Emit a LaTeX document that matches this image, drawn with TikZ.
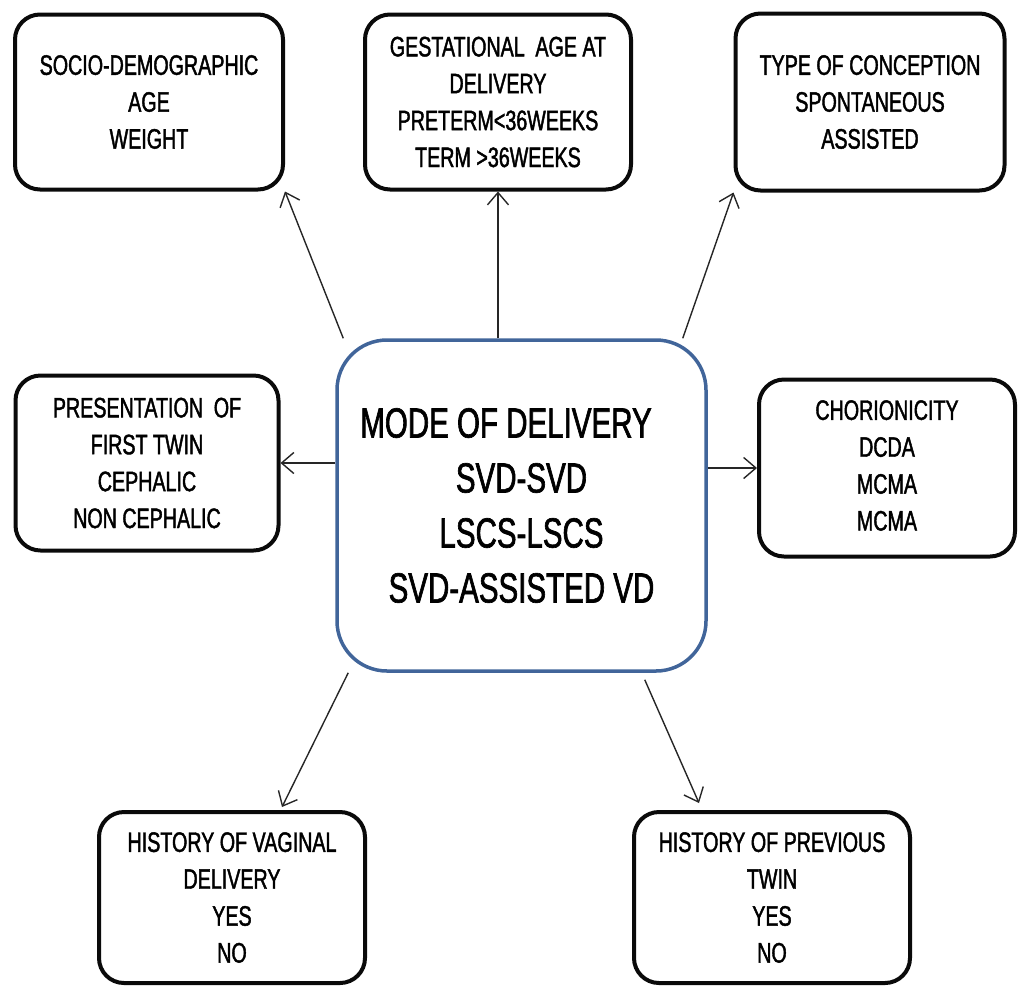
\documentclass[tikz,border=0pt]{standalone}
\usepackage{fontspec}
\setmainfont{Liberation Sans}[FakeStretch=0.7,FakeBold=1.5]
\usepackage{tikz}
\usetikzlibrary{arrows.meta}
\definecolor{modeblue}{HTML}{41659A}
\definecolor{boxblack}{HTML}{0A0A0A}
\newcommand{\px}{0.02cm}
\tikzset{every node/.append style={font=\fontsize{16pt}{21pt}\selectfont}}

\begin{document}
\begin{tikzpicture}[>={Straight Barb[length=7pt,width=12pt]},x=\px,y=-\px,
  factor/.style={draw=boxblack,line width=4*\px,rounded corners=25*\px,align=center,inner sep=0pt},
  link/.style={->,line width=1.4*\px,black!85}]
\useasboundingbox (0,0) rectangle (1018,985);
% outer factors
\node[factor,minimum width=268*\px,minimum height=175*\px] (socio) at (149,102) {SOCIO-DEMOGRAPHIC\\AGE\\WEIGHT};
\node[factor,minimum width=266*\px,minimum height=175*\px] (gest) at (498,102) {GESTATIONAL\hspace{3pt} AGE AT\\DELIVERY\\PRETERM<36WEEKS\\TERM >36WEEKS};
\node[factor,minimum width=269*\px,minimum height=177*\px] (type) at (870,102) {TYPE OF CONCEPTION\\SPONTANEOUS\\ASSISTED};
\node[factor,minimum width=263*\px,minimum height=175*\px] (pres) at (147,463) {PRESENTATION\hspace{3pt} OF\\FIRST TWIN\\CEPHALIC\\NON CEPHALIC};
\node[factor,minimum width=256*\px,minimum height=177*\px,text depth=3pt] (chor) at (887,468) {CHORIONICITY\\DCDA\\MCMA\\MCMA};
\node[factor,minimum width=266*\px,minimum height=171*\px] (vag) at (232,897.5) {HISTORY OF VAGINAL\\DELIVERY\\YES\\NO};
\node[factor,minimum width=276*\px,minimum height=171*\px] (prev) at (772,897.5) {HISTORY OF PREVIOUS\\TWIN\\YES\\NO};
% central box
\node[factor,draw=modeblue,line width=3.5*\px,rounded corners=50*\px,minimum width=369*\px,minimum height=331*\px,
  font=\fontsize{24pt}{31.3pt}\selectfont] (mode) at (521.5,505.5)
  {MODE OF DELIVERY\hspace*{0.62cm}\\SVD-SVD\\LSCS-LSCS\\SVD-ASSISTED VD};
% links
\draw[link] ([xshift=8*\px]mode.north west) -- (socio.south east);
\draw[link] (mode.north -| gest.south) -- (gest.south);
\draw[link] ([xshift=-25*\px]mode.north east) -- (type.south west);
\draw[link] (pres.east -| mode.west) -- (pres.east);
\draw[link] (chor.west -| mode.east) -- (chor.west);
\draw[link] ([xshift=13*\px]mode.south west) -- ([shift={(50,-3)}]vag.north);
\draw[link] ([shift={(-63,7)}]mode.south east) -- ([shift={(67,-7)}]prev.north west);
\end{tikzpicture}
\end{document}
